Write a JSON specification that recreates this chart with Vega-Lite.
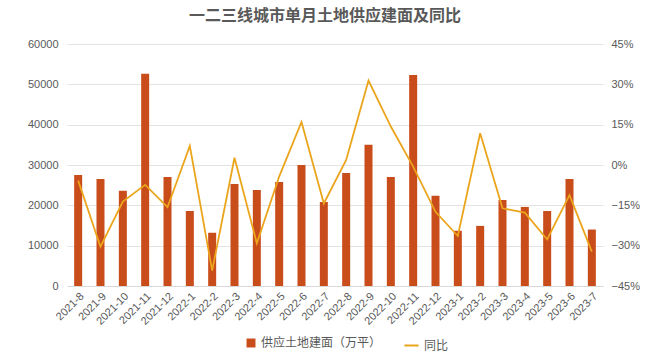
{
  "$schema": "https://vega.github.io/schema/vega-lite/v6.json",
  "width": 536,
  "height": 242,
  "autosize": {"type": "none"},
  "padding": {"left": 67, "top": 44, "right": 48, "bottom": 69},
  "background": "white",
  "title": {
    "text": "一二三线城市单月土地供应建面及同比",
    "font": "Noto Sans CJK SC",
    "fontSize": 16,
    "fontWeight": "bold",
    "color": "#595959",
    "anchor": "middle",
    "dx": -10,
    "offset": 14
  },
  "config": {
    "view": {"stroke": null},
    "axis": {
      "labelFont": "Liberation Sans",
      "labelColor": "#595959",
      "labelFontSize": 11,
      "ticks": false,
      "domain": false,
      "gridColor": "#E3E3E3"
    },
    "legend": {
      "labelFont": "Noto Sans CJK SC",
      "labelFontSize": 12,
      "labelColor": "#595959"
    }
  },
  "data": {
    "values": [
      {"month": "2021-8", "area": 27500, "yoy": -0.058},
      {"month": "2021-9", "area": 26500, "yoy": -0.304},
      {"month": "2021-10", "area": 23600, "yoy": -0.136},
      {"month": "2021-11", "area": 52600, "yoy": -0.074},
      {"month": "2021-12", "area": 27000, "yoy": -0.157},
      {"month": "2022-1", "area": 18600, "yoy": 0.071},
      {"month": "2022-2", "area": 13200, "yoy": -0.393},
      {"month": "2022-3", "area": 25300, "yoy": 0.027},
      {"month": "2022-4", "area": 23800, "yoy": -0.291},
      {"month": "2022-5", "area": 25800, "yoy": -0.043},
      {"month": "2022-6", "area": 30000, "yoy": 0.16},
      {"month": "2022-7", "area": 20800, "yoy": -0.143},
      {"month": "2022-8", "area": 28000, "yoy": 0.019},
      {"month": "2022-9", "area": 35000, "yoy": 0.314},
      {"month": "2022-10", "area": 27000, "yoy": 0.143},
      {"month": "2022-11", "area": 52300, "yoy": -0.006},
      {"month": "2022-12", "area": 22400, "yoy": -0.174},
      {"month": "2023-1", "area": 13700, "yoy": -0.264},
      {"month": "2023-2", "area": 14900, "yoy": 0.118},
      {"month": "2023-3", "area": 21300, "yoy": -0.161},
      {"month": "2023-4", "area": 19600, "yoy": -0.177},
      {"month": "2023-5", "area": 18600, "yoy": -0.277},
      {"month": "2023-6", "area": 26500, "yoy": -0.112},
      {"month": "2023-7", "area": 14000, "yoy": -0.322}
    ]
  },
  "encoding": {
    "x": {
      "field": "month",
      "type": "ordinal",
      "sort": null,
      "title": null,
      "scale": {"paddingInner": 0.64, "paddingOuter": 0.32},
      "axis": {"labelAngle": -45, "labelPadding": 4, "domain": true, "domainColor": "#D9D9D9"}
    }
  },
  "layer": [
    {
      "mark": {"type": "bar", "size": 8},
      "encoding": {
        "y": {
          "field": "area",
          "type": "quantitative",
          "title": null,
          "scale": {"domain": [0, 60000]},
          "axis": {"values": [0, 10000, 20000, 30000, 40000, 50000, 60000], "format": "d", "labelPadding": 9}
        },
        "color": {
          "datum": "供应土地建面（万平）",
          "scale": {"range": ["#C94C1B"]},
          "legend": {"orient": "none", "legendX": 178, "legendY": 293, "title": null, "symbolType": "square", "symbolSize": 80, "direction": "horizontal"}
        }
      }
    },
    {
      "mark": {"type": "line", "strokeWidth": 1.8},
      "encoding": {
        "y": {
          "field": "yoy",
          "type": "quantitative",
          "title": null,
          "scale": {"domain": [-0.45, 0.45]},
          "axis": {"orient": "right", "values": [-0.45, -0.3, -0.15, 0, 0.15, 0.3, 0.45], "format": ".0%", "grid": false, "labelPadding": 8}
        },
        "stroke": {
          "datum": "同比",
          "scale": {"range": ["#EBA51C"]},
          "legend": {"orient": "none", "legendX": 336, "legendY": 293, "title": null, "symbolType": "stroke", "symbolStrokeWidth": 2, "symbolSize": 200, "direction": "horizontal"}
        }
      }
    }
  ],
  "resolve": {"scale": {"y": "independent"}}
}
